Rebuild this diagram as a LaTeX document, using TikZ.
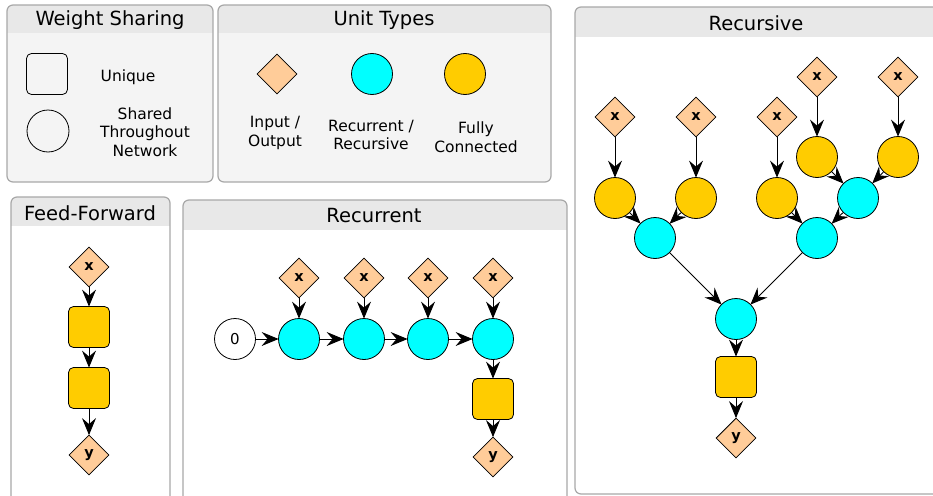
\documentclass[tikz,border=0pt]{standalone}
\usepackage{fontspec}
\setmainfont{DejaVu Sans}
\usetikzlibrary{shapes.geometric,arrows.meta}
\definecolor{peach}{HTML}{FFCC99}
\definecolor{cyanu}{HTML}{00FFFF}
\definecolor{gold}{HTML}{FFCC00}
\definecolor{panelfill}{HTML}{F4F4F4}
\definecolor{headfill}{HTML}{E8E8E8}
\definecolor{panelline}{HTML}{A8A8A8}
\tikzset{
  panel/.style={draw=panelline, line width=1.2pt, rounded corners=6pt},
  title/.style={font=\fontsize{19.5}{22}\selectfont, inner sep=0pt},
  lab/.style={font=\fontsize{15.5}{18.5}\selectfont, align=center, inner sep=0pt},
  io/.style={diamond, draw, fill=peach, minimum width=40pt, minimum height=40pt, inner sep=0pt, aspect=1, font=\fontsize{14.5}{16}\selectfont\bfseries, line width=0.8pt},
  rec/.style={circle, draw, fill=cyanu, minimum size=41pt, inner sep=0pt, line width=0.8pt},
  fc/.style={circle, draw, fill=gold, minimum size=41pt, inner sep=0pt, line width=0.8pt},
  fcbox/.style={rectangle, rounded corners=5pt, draw, fill=gold, minimum size=41pt, inner sep=0pt, line width=0.8pt},
  unibox/.style={rectangle, rounded corners=5pt, draw, minimum size=41pt, inner sep=0pt, line width=0.8pt},
  shcirc/.style={circle, draw, minimum size=42pt, inner sep=0pt, line width=0.8pt},
  zero/.style={circle, draw, fill=white, minimum size=41pt, inner sep=0pt, line width=0.8pt, font=\fontsize{15}{17}\selectfont},
  arr/.style={draw=black, line width=0.9pt, -{Stealth[length=17pt,width=14pt,inset=6pt]}, shorten >=-0.5pt}
}
\begin{document}
\begin{tikzpicture}[x=1pt,y=-1pt]
\useasboundingbox (0,0) rectangle (933,495);
\clip (0,0) rectangle (933,495);
\fill[white] (0,0) rectangle (933,495);

% ---------- Weight Sharing panel
\begin{scope}
\clip[rounded corners=6pt] (7,5) rectangle (213,182);
\fill[panelfill] (7,5) rectangle (213,182);
\fill[headfill] (7,5) rectangle (213,33);
\end{scope}
\draw[panel] (7,5) rectangle (213,182);
\node[title] (tws) at (110,20) {Weight Sharing};
\node[unibox] (uq) at (47,74) {};
\node[lab] (luq) at (128,77) {Unique};
\node[shcirc] (sh) at (48,131) {};
\node[lab] (lsh) at (145,132) {Shared\\Throughout\\Network};

% ---------- Unit Types panel
\begin{scope}
\clip[rounded corners=6pt] (218,5) rectangle (551,182);
\fill[panelfill] (218,5) rectangle (551,182);
\fill[headfill] (218,5) rectangle (551,33);
\end{scope}
\draw[panel] (218,5) rectangle (551,182);
\node[title] (tut) at (384,20) {Unit Types};
\node[io] (uio) at (277,74) {};
\node[rec] (urc) at (372,74) {};
\node[fc] (ufc) at (465,74) {};
\node[lab] (lio) at (275,133) {Input /\\Output};
\node[lab] (lrc) at (371,135) {Recurrent /\\Recursive};
\node[lab] (lfc) at (476,137) {Fully\\Connected};

% ---------- Feed-Forward panel
\begin{scope}
\clip[rounded corners=6pt] (11,197) rectangle (170,520);
\fill[white] (11,197) rectangle (170,520);
\fill[headfill] (11,197) rectangle (170,226);
\end{scope}
\draw[panel] (11,197) rectangle (170,520);
\node[title] (tff) at (90,213) {Feed-Forward};
\node[io] (ffx) at (89,267) {x};
\node[fcbox] (ff1) at (89,327) {};
\node[fcbox] (ff2) at (89,388) {};
\node[io] (ffy) at (89,455) {y};
\draw[arr] (ffx) -- (ff1);
\draw[arr] (ff1) -- (ff2);
\draw[arr] (ff2) -- (ffy);

% ---------- Recurrent panel
\begin{scope}
\clip[rounded corners=6pt] (183,200) rectangle (567,520);
\fill[white] (183,200) rectangle (567,520);
\fill[headfill] (183,200) rectangle (567,230);
\end{scope}
\draw[panel] (183,200) rectangle (567,520);
\node[title] (trc) at (374,216) {Recurrent};
\node[zero] (r0) at (235,339) {0};
\foreach \i/\xx in {1/299,2/364,3/428,4/493}{
  \node[io] (rx\i) at (\xx,278) {x};
  \node[rec] (rc\i) at (\xx,339) {};
  \draw[arr] (rx\i) -- (rc\i);
}
\draw[arr] (r0) -- (rc1);
\draw[arr] (rc1) -- (rc2);
\draw[arr] (rc2) -- (rc3);
\draw[arr] (rc3) -- (rc4);
\node[fcbox] (rfc) at (493,399) {};
\node[io] (ry) at (493,457) {y};
\draw[arr] (rc4) -- (rfc);
\draw[arr] (rfc) -- (ry);

% ---------- Recursive panel
\begin{scope}
\clip[rounded corners=6pt] (575,7) rectangle (950,494);
\fill[white] (575,7) rectangle (950,494);
\fill[headfill] (575,7) rectangle (950,37);
\end{scope}
\draw[panel] (575,7) rectangle (950,494);
\node[title] (trs) at (756,23) {Recursive};
\node[io] (sx1) at (615,117) {x};
\node[io] (sx2) at (696,117) {x};
\node[io] (sx3) at (777,117) {x};
\node[io] (sx4) at (817,77) {x};
\node[io] (sx5) at (898,77) {x};
\node[fc] (sf1) at (615,198) {};
\node[fc] (sf2) at (696,198) {};
\node[fc] (sf3) at (777,198) {};
\node[fc] (sf4) at (817,157) {};
\node[fc] (sf5) at (898,157) {};
\node[rec] (sc1) at (655,238) {};
\node[rec] (sc2) at (817,238) {};
\node[rec] (sc3) at (858,198) {};
\node[rec] (sc0) at (736,319) {};
\node[fcbox] (sfb) at (736,377) {};
\node[io] (sy) at (736,438) {y};
\foreach \i in {1,...,5}{ \draw[arr] (sx\i) -- (sf\i); }
\draw[arr] (sf1) -- (sc1);
\draw[arr] (sf2) -- (sc1);
\draw[arr] (sf4) -- (sc3);
\draw[arr] (sf5) -- (sc3);
\draw[arr] (sf3) -- (sc2);
\draw[arr] (sc3) -- (sc2);
\draw[arr] (sc1) -- (sc0);
\draw[arr] (sc2) -- (sc0);
\draw[arr] (sc0) -- (sfb);
\draw[arr] (sfb) -- (sy);
\end{tikzpicture}
\end{document}
